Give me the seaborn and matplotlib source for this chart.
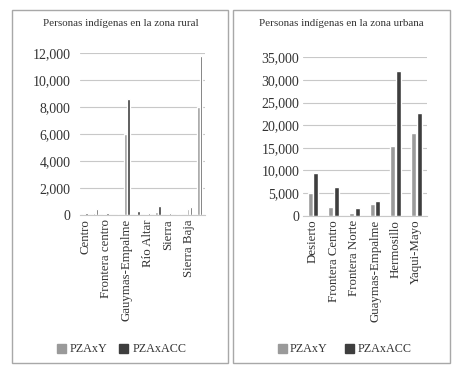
import pandas as pd
import matplotlib
matplotlib.use("Agg")
import matplotlib.pyplot as plt
import seaborn as sns
from matplotlib.patches import Rectangle
from matplotlib.ticker import FuncFormatter

# rural zones (labels shown every other category, as in the original)
rural_zones = ["Centro", "Desierto", "Frontera centro", "Frontera Norte",
               "Gauymas-Empalme", "Hermosillo", "Río Altar", "Río Sonora",
               "Sierra", "Sierra Alta", "Sierra Baja", "Yaqui-Mayo"]
rural_pzaxy = [80, 150, 50, 30, 6000, 80, 80, 250, 100, 50, 420, 8000]
rural_pzaxacc = [150, 470, 170, 50, 8550, 320, 150, 660, 150, 100, 620, 11780]

urban_zones = ["Desierto", "Frontera Centro", "Frontera Norte",
               "Guaymas-Empalme", "Hermosillo", "Yaqui-Mayo"]
urban_pzaxy = [5100, 1850, 520, 2650, 15500, 18200]
urban_pzaxacc = [9350, 6250, 1620, 3170, 31900, 22650]

series = ["PZAxY", "PZAxACC"]
colors = ["#9a9a9a", "#3e3e3e"]


def long_df(zones, a, b):
    return pd.DataFrame({
        "zona": zones * 2,
        "serie": [series[0]] * len(zones) + [series[1]] * len(zones),
        "valor": a + b,
    })


sns.set_style("white")
plt.rcParams["font.family"] = ["Liberation Serif", "DejaVu Serif"]
txt = "#333333"

fig = plt.figure(figsize=(4.54, 3.67), dpi=100)
W, H = 454, 367


def px_axes(x0, x1, ytop, ybot):
    return fig.add_axes([x0 / W, (H - ybot) / H, (x1 - x0) / W, (ybot - ytop) / H])


# panel frames
for (x0, x1) in [(12, 227.5), (233.5, 450)]:
    fig.patches.append(Rectangle((x0 / W, (H - 363) / H), (x1 - x0) / W, (363 - 10) / H,
                                 transform=fig.transFigure, fill=False,
                                 edgecolor="#a8a8a8", linewidth=1.0))

ax1 = px_axes(80, 205, 52.7, 215)
ax2 = px_axes(302.7, 426.7, 57.3, 215.7)

sns.barplot(data=long_df(rural_zones, rural_pzaxy, rural_pzaxacc), x="zona", y="valor",
            hue="serie", palette=colors, width=0.55, gap=0.12, ax=ax1, legend=False)
sns.barplot(data=long_df(urban_zones, urban_pzaxy, urban_pzaxacc), x="zona", y="valor",
            hue="serie", palette=colors, width=0.55, gap=0.15, ax=ax2, legend=False)

fmt = FuncFormatter(lambda v, p: f"{int(v):,}")
for ax, top, step, labels, pad in [
        (ax1, 12000, 2000, [z if i % 2 == 0 else "" for i, z in enumerate(rural_zones)], 7),
        (ax2, 35000, 5000, urban_zones, 2.5)]:
    ax.set_ylim(0, top)
    ax.set_yticks(range(0, top + 1, step))
    ax.yaxis.set_major_formatter(fmt)
    ax.set_xlim(-0.5, len(labels) - 0.5)
    ax.set_xticks(range(len(labels)))
    ax.set_xticklabels(labels, rotation=90, fontsize=9.3, color=txt)
    ax.tick_params(axis="y", labelsize=10, colors=txt, length=0, pad=pad)
    ax.tick_params(axis="x", length=0, pad=3)
    ax.grid(axis="y", color="#c8c8c8", linewidth=0.8)
    ax.set_axisbelow(True)
    for s in ["top", "right", "left"]:
        ax.spines[s].set_visible(False)
    ax.spines["bottom"].set_color("#c8c8c8")
    ax.set_xlabel("")
    ax.set_ylabel("")

fig.text(121 / W, (H - 23) / H, "Personas indígenas en la zona rural",
         ha="center", va="center", fontsize=7.9, color=txt)
fig.text(341.5 / W, (H - 23) / H, "Personas indígenas en la zona urbana",
         ha="center", va="center", fontsize=7.9, color=txt)

# legends
for (sq1, t1, sq2, t2) in [(57, 70, 119, 133), (278, 290, 345, 358)]:
    for sq, t, c, name in [(sq1, t1, colors[0], series[0]), (sq2, t2, colors[1], series[1])]:
        fig.patches.append(Rectangle((sq / W, (H - 353) / H), 9 / W, 9 / H,
                                     transform=fig.transFigure, color=c))
        fig.text(t / W, (H - 348.5) / H, name, ha="left", va="center",
                 fontsize=8.7, color=txt)

fig.savefig("out.png", dpi=100)
